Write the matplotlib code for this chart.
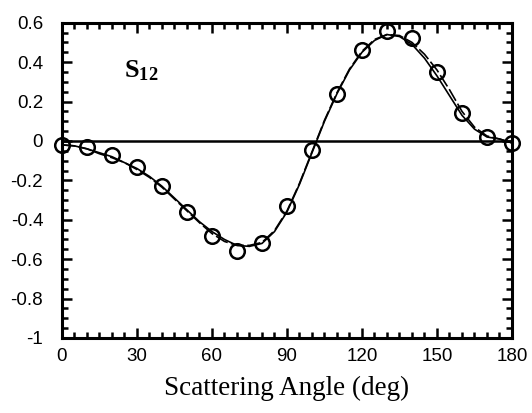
import numpy as np
import matplotlib.pyplot as plt
from matplotlib.ticker import MultipleLocator

# datos medidos (circulos)
ang_pts = [0, 10, 20, 30, 40, 50, 60, 70, 80, 90, 100, 110, 120, 130, 140, 150, 160, 170, 180]
s12_pts = [-0.02, -0.03, -0.07, -0.13, -0.23, -0.36, -0.48, -0.56, -0.52, -0.33,
           -0.045, 0.24, 0.46, 0.56, 0.52, 0.35, 0.14, 0.02, -0.01]

# curvas (linea continua y discontinua)
ang_curve = [0, 5, 10, 15, 20, 25, 30, 35, 40, 45, 50, 55, 60, 65, 70, 75, 80, 85, 90,
             95, 100, 105, 110, 115, 120, 125, 130, 135, 140, 145, 150, 155, 160, 165,
             170, 175, 180]
s12_solid = [-0.02, -0.025, -0.04, -0.06, -0.08, -0.11, -0.14, -0.18, -0.23, -0.29, -0.35,
             -0.41, -0.46, -0.50, -0.53, -0.535, -0.52, -0.46, -0.36, -0.22, -0.06, 0.10,
             0.24, 0.36, 0.45, 0.51, 0.54, 0.53, 0.49, 0.42, 0.33, 0.23, 0.13, 0.06,
             0.02, 0.01, -0.01]
s12_dash = [-0.02, -0.025, -0.04, -0.065, -0.085, -0.11, -0.145, -0.185, -0.235, -0.295,
            -0.355, -0.415, -0.47, -0.51, -0.53, -0.53, -0.515, -0.455, -0.355, -0.215,
            -0.055, 0.105, 0.245, 0.365, 0.455, 0.515, 0.54, 0.535, 0.50, 0.44, 0.36,
            0.26, 0.15, 0.07, 0.025, 0.01, -0.01]

plt.rcParams['mathtext.fontset'] = 'custom'
plt.rcParams['mathtext.bf'] = 'Liberation Serif:bold'
plt.rcParams['mathtext.rm'] = 'Liberation Serif'

fig = plt.figure(figsize=(5.32, 4.13), dpi=100)
ax = fig.add_axes([0.1165, 0.1816, 0.8459, 0.7634])

ax.axhline(0, color='black', lw=1.8, zorder=1)
ax.plot(ang_curve, s12_solid, color='black', lw=1.2, zorder=2)
ax.plot(ang_curve, s12_dash, color='black', lw=1.2, ls=(0, (8, 2)), zorder=2)
ax.plot(ang_pts, s12_pts, 'o', mfc='none', mec='black', ms=10.5, mew=1.8,
        clip_on=False, zorder=3)

ax.set_xlim(0, 180)
ax.set_ylim(-1, 0.6)
ax.xaxis.set_major_locator(MultipleLocator(30))
ax.xaxis.set_minor_locator(MultipleLocator(5))
ax.yaxis.set_major_locator(MultipleLocator(0.2))
ax.yaxis.set_minor_locator(MultipleLocator(0.05))
ax.set_yticks([0.6, 0.4, 0.2, 0, -0.2, -0.4, -0.6, -0.8, -1])
ax.set_yticklabels(['0.6', '0.4', '0.2', '0', '-0.2', '-0.4', '-0.6', '-0.8', '-1'])

ax.tick_params(which='both', direction='in', top=True, right=True, width=1.8,
               labelsize=13.5)
ax.tick_params(which='major', length=7)
ax.tick_params(which='minor', length=4)
ax.tick_params(axis='y', pad=13.5)
ax.tick_params(axis='x', pad=7)
for lab in ax.get_xticklabels() + ax.get_yticklabels():
    lab.set_family('Liberation Sans')
for s in ax.spines.values():
    s.set_linewidth(2.2)

ax.set_xlabel('Scattering Angle (deg)', family='Liberation Serif', fontsize=19.5,
              labelpad=8)
ax.text(25, 0.32, r'$\mathbf{S_{12}}$', fontsize=19)

fig.savefig('out.png', dpi=100)
